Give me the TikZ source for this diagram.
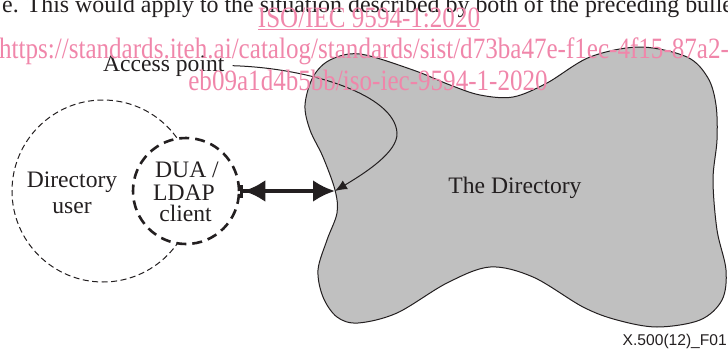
\documentclass[tikz,border=0pt]{standalone}
\usepackage{fontspec}
\setmainfont{Liberation Serif}
\newfontfamily\footfont{Liberation Sans}
\usetikzlibrary{arrows.meta}
\definecolor{blobgray}{RGB}{192,192,192}
\definecolor{inkline}{RGB}{35,31,32}
\definecolor{wmpink}{RGB}{240,134,170}

\begin{document}
\begin{tikzpicture}[x=1pt,y=-1pt,
  lbl/.style={font=\fontsize{23.6}{26}\selectfont, inner sep=0pt, anchor=base, text=inkline},
  wm/.style={text=wmpink, font=\fontsize{29.5}{32}\selectfont, inner sep=0pt, anchor=base},
  usercircle/.style={circle, draw=inkline, line width=1pt, dash pattern=on 6pt off 3.5pt,
    minimum size=182pt, inner sep=0pt},
  duacircle/.style={circle, draw=inkline, fill=white, line width=2.6pt,
    dash pattern=on 10pt off 6pt, minimum size=106pt, inner sep=0pt},
  blob/.style={fill=blobgray, draw=inkline, line width=1pt},
  leader/.style={draw=inkline, line width=1pt, -{Latex[length=12pt,width=10pt]}},
  access/.style={draw=inkline, line width=4pt,
    {Bar[width=13pt,line width=3pt]Latex[length=22pt,width=22pt]}-{Latex[length=22pt,width=22pt]}},
]
\useasboundingbox (0,0) rectangle (728,351);

% running text above the figure
\node[lbl, font=\fontsize{23.9}{26}\selectfont, anchor=base west] (body) at (2,12)
  {e. This would apply to the situation described by both of the preceding bulle};

% user and client
\node[usercircle] (user) at (103,191) {};
\node[duacircle] (dua) at (186,191) {};

\node[lbl] (user1) at (72,187) {Directory};
\node[lbl] (user2) at (72,213) {user};
\node[lbl] (dua1) at (187,177) {DUA /};
\node[lbl] (dua2) at (184,200) {LDAP};
\node[lbl] (dua3) at (185.5,221) {client};

% the directory cloud
\draw[blob] plot[smooth cycle, tension=0.55] coordinates {
  (335,190) (337,213) (327,240) (318,270) (323,297) (337,317) (358,323)
  (397,313) (447,283) (490,267) (533,277) (583,307) (617,320) (657,327)
  (700,320) (722,300) (726,270) (717,230) (713,180) (717,140) (716,105)
  (708,78) (687,57) (640,47) (590,57) (547,83) (513,97) (480,95)
  (450,85) (413,70) (360,54) (330,60) (313,77) (305,105) (310,130) (323,157)};
\coordinate (notch) at (335,191);
\node[lbl] (dir) at (515,193) {The Directory};

% access point label and its leader
\node[lbl, anchor=base west] (ap) at (103,71) {Access point};
\draw[leader] ([xshift=8pt]ap.east) .. controls (310,68) and (395,95) .. (397,133)
  .. controls (398,152) and (365,173) .. (notch);

% protocol exchange
\draw[access] (dua.east) -- (notch);

% figure reference
\node[font=\footfont\fontsize{15.6}{18}\selectfont, anchor=base east, inner sep=0pt, text=inkline]
  (figref) at (727,345) {X.500(12)\_F01};

% catalogue stamp
\node[wm] (wm1) at (369,27) {\scalebox{0.85}[1]{\underline{ISO/IEC 9594-1:2020}}};
\node[wm] (wm2) at (364,58) {\scalebox{0.85}[1]{https://standards.iteh.ai/catalog/standards/sist/d73ba47e-f1ec-4f15-87a2-}};
\node[wm] (wm3) at (368,90) {\scalebox{0.85}[1]{eb09a1d4b5bb/iso-iec-9594-1-2020}};
\end{tikzpicture}
\end{document}
